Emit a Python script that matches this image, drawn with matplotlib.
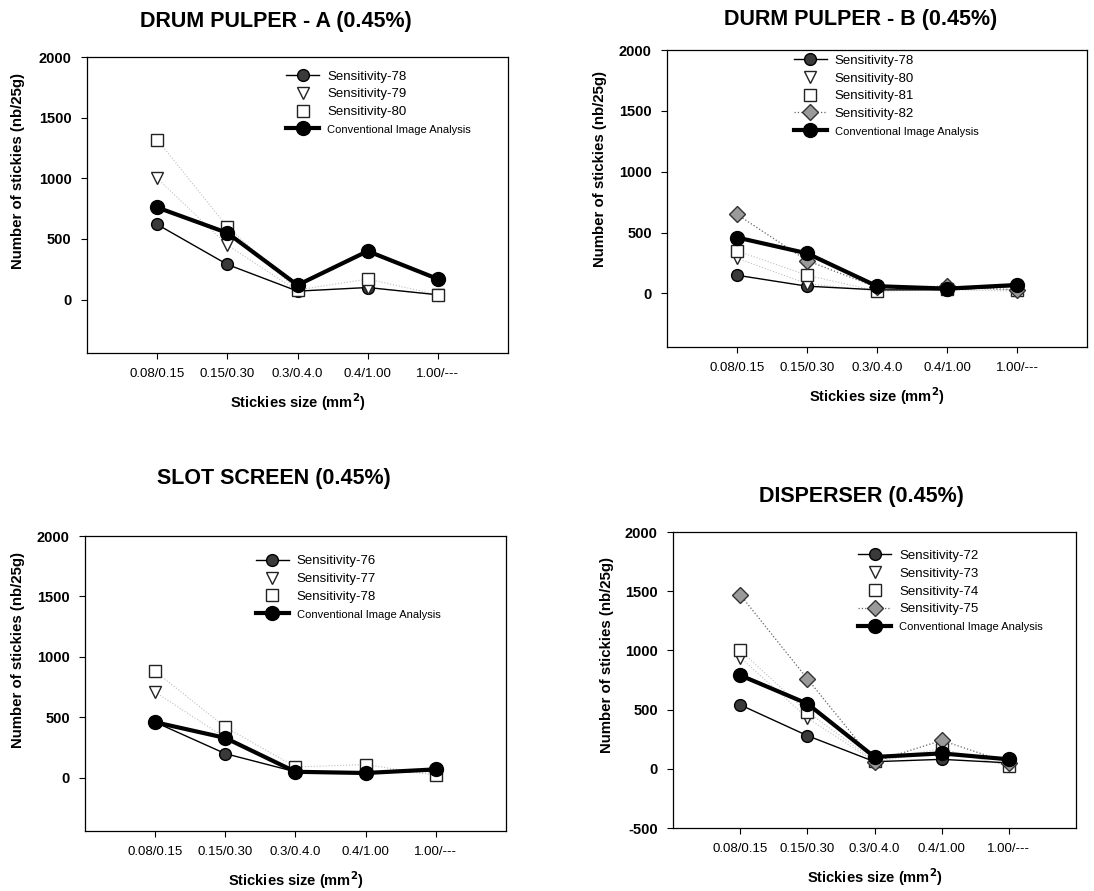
import matplotlib
matplotlib.use('Agg')
import matplotlib.pyplot as plt

plt.rcParams['font.family'] = ['Liberation Sans', 'DejaVu Sans']

size_labels = ['0.08/0.15', '0.15/0.30', '0.3/0.4.0', '0.4/1.00', '1.00/---']

# drum pulper A
a_names = ['Sensitivity-78', 'Sensitivity-79', 'Sensitivity-80']
a_s1 = [620, 290, 70, 100, 40]
a_s2 = [1000, 450, 70, 100, 40]
a_s3 = [1320, 600, 80, 170, 40]
a_conv = [760, 550, 120, 400, 170]

# durm pulper B
b_names = ['Sensitivity-78', 'Sensitivity-80', 'Sensitivity-81', 'Sensitivity-82']
b_s1 = [150, 60, 30, 30, 60]
b_s2 = [290, 80, 20, 30, 20]
b_s3 = [350, 150, 20, 40, 30]
b_s4 = [650, 270, 50, 60, 30]
b_conv = [460, 330, 60, 40, 70]

# slot screen
c_names = ['Sensitivity-76', 'Sensitivity-77', 'Sensitivity-78']
c_s1 = [460, 200, 50, 40, 60]
c_s2 = [710, 330, 50, 50, 40]
c_s3 = [880, 420, 90, 110, 20]
c_conv = [460, 330, 50, 40, 70]

# disperser
d_names = ['Sensitivity-72', 'Sensitivity-73', 'Sensitivity-74', 'Sensitivity-75']
d_s1 = [540, 280, 60, 80, 50]
d_s2 = [940, 430, 60, 150, 30]
d_s3 = [1000, 480, 70, 170, 20]
d_s4 = [1470, 760, 60, 240, 50]
d_conv = [790, 550, 100, 130, 80]

conv_name = 'Conventional Image Analysis'
x = list(range(len(size_labels)))

fig = plt.figure(figsize=(10.94, 8.91), dpi=100)


def panel(rect, title, tpos, ylpos, names, series, conv, ymin, show_min, leg_anchor):
    ax = fig.add_axes(rect)
    styles = [
        dict(marker='o', ms=8.5, mfc='#3a3a3a', mec='black', color='black', lw=1.0, ls='-'),
        dict(marker='v', ms=9, mfc='white', mec='#222222', ls='none'),
        dict(marker='s', ms=9, mfc='white', mec='#222222', ls='none'),
        dict(marker='D', ms=8, mfc='#9a9a9a', mec='#333333', color='#666666', lw=0.9, ls=':'),
    ]
    for name, vals, st in zip(names, series, styles):
        if st.get('ls') == 'none':
            ax.plot(x, vals, color='#c0c0c0', lw=0.8, ls=':', zorder=1)
        ax.plot(x, vals, label=name, zorder=2, **st)
    ax.plot(x, conv, marker='o', ms=10, mfc='black', mec='black', color='black',
            lw=3, label=conv_name, zorder=3)
    ax.set_xlim(-1, 5)
    ax.set_ylim(ymin, 2000)
    ticks = [0, 500, 1000, 1500, 2000]
    if show_min:
        ticks = [-500] + ticks
    ax.set_yticks(ticks)
    ax.set_yticklabels([str(t) for t in ticks], fontweight='bold', fontsize=10.5)
    ax.set_xticks(x)
    ax.set_xticklabels(size_labels, fontsize=9.5)
    ax.tick_params(direction='out', length=4, width=0.8, pad=7)
    for sp in ax.spines.values():
        sp.set_linewidth(0.9)
    ax.set_xlabel('Stickies size (mm$^\\mathbf{2}$)', fontweight='bold', fontsize=10.5, labelpad=8)
    leg = ax.legend(loc='upper left', bbox_to_anchor=leg_anchor, frameon=False,
                    fontsize=9.5, handlelength=2.5, handletextpad=0.6, labelspacing=0.42,
                    borderpad=0, borderaxespad=0)
    leg.get_texts()[-1].set_fontsize(8)
    fig.text(tpos[0], tpos[1], title, ha='center', va='center', fontsize=15.5, fontweight='bold')
    fig.text(ylpos[0], ylpos[1], 'Number of stickies (nb/25g)', rotation=90,
             ha='center', va='center', fontsize=10.8, fontweight='bold')
    return ax


panel([0.0795, 0.6038, 0.3849, 0.3322], 'DRUM PULPER - A (0.45%)', (0.2523, 0.976), (0.016, 0.808),
      a_names, [a_s1, a_s2, a_s3], a_conv, -440, False, (0.473, 0.955))
panel([0.6097, 0.6105, 0.3839, 0.3333], 'DURM PULPER - B (0.45%)', (0.787, 0.978), (0.548, 0.81),
      b_names, [b_s1, b_s2, b_s3, b_s4], b_conv, -440, False, (0.302, 0.985))
panel([0.0777, 0.0673, 0.3848, 0.3311], 'SLOT SCREEN (0.45%)', (0.2505, 0.4635), (0.016, 0.27),
      c_names, [c_s1, c_s2, c_s3], c_conv, -440, False, (0.406, 0.935))
panel([0.6152, 0.0707, 0.3684, 0.3322], 'DISPERSER (0.45%)', (0.787, 0.443), (0.555, 0.265),
      d_names, [d_s1, d_s2, d_s3, d_s4], d_conv, -500, True, (0.459, 0.94))

fig.savefig('out.png', dpi=100)
